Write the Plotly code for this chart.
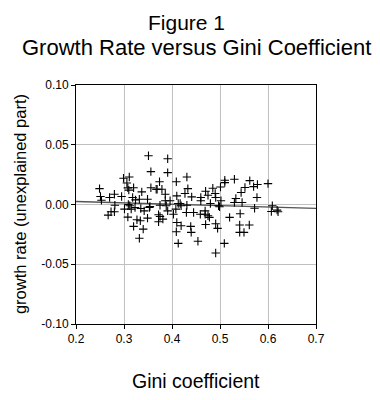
import plotly.graph_objects as go

gini = [0.351, 0.391, 0.356, 0.391, 0.299, 0.311, 0.431, 0.374, 0.409, 0.249,
        0.306, 0.308, 0.310, 0.320, 0.356, 0.367, 0.369, 0.379, 0.433, 0.337,
        0.386, 0.410, 0.427, 0.441, 0.251, 0.253, 0.270, 0.280, 0.295, 0.318,
        0.324, 0.332, 0.349, 0.386, 0.396, 0.413, 0.417, 0.281, 0.309, 0.312,
        0.301, 0.315, 0.323, 0.335, 0.342, 0.353, 0.354, 0.375, 0.388, 0.391,
        0.403, 0.408, 0.419, 0.431, 0.430, 0.267, 0.273, 0.280, 0.308, 0.327,
        0.334, 0.349, 0.372, 0.375, 0.372, 0.381, 0.320, 0.340, 0.332, 0.410,
        0.419, 0.409, 0.439, 0.440, 0.413,
        0.510, 0.510, 0.530, 0.562, 0.600, 0.578, 0.570, 0.552, 0.501, 0.485,
        0.470, 0.490, 0.475, 0.491, 0.544, 0.577, 0.460, 0.460, 0.502, 0.533,
        0.530, 0.546, 0.480, 0.497, 0.499, 0.445, 0.459, 0.469, 0.469, 0.475,
        0.478, 0.520, 0.542, 0.572, 0.609, 0.607, 0.619, 0.621, 0.470, 0.491,
        0.495, 0.541, 0.561, 0.541, 0.550, 0.454, 0.509, 0.491]
growth = [0.0408, 0.0383, 0.0275, 0.0267, 0.0220, 0.0230, 0.0230, 0.0190, 0.0190, 0.0133,
          0.0180, 0.0139, 0.0120, 0.0140, 0.0140, 0.0128, 0.0128, 0.0128, 0.0133, 0.0106,
          0.0086, 0.0072, 0.0092, 0.0064, 0.0067, 0.0036, 0.0058, 0.0086, 0.0067, 0.0058,
          0.0039, 0.0044, 0.0044, 0.0031, 0.0031, 0.0008, 0.0008, -0.0006, 0.0000, -0.0011,
          -0.0039, -0.0039, -0.0025, -0.0033, -0.0053, -0.0025, -0.0017, -0.0006, -0.0011, -0.0053,
          -0.0081, -0.0039, -0.0011, -0.0006, -0.0067, -0.0089, -0.0061, -0.0061, -0.0106, -0.0128,
          -0.0136, -0.0114, -0.0086, -0.0100, -0.0144, -0.0122, -0.0183, -0.0206, -0.0283, -0.0150,
          -0.0178, -0.0228, -0.0183, -0.0233, -0.0325,
          0.0203, 0.0183, 0.0211, 0.0200, 0.0175, 0.0167, 0.0150, 0.0142, 0.0147, 0.0136,
          0.0111, 0.0092, 0.0078, 0.0058, 0.0100, 0.0058, 0.0058, 0.0031, 0.0031, 0.0050,
          0.0017, 0.0017, 0.0008, -0.0011, -0.0019, -0.0067, -0.0081, -0.0053, -0.0081, -0.0094,
          -0.0108, -0.0108, -0.0078, -0.0031, -0.0011, -0.0058, -0.0047, -0.0061, -0.0167, -0.0161,
          -0.0200, -0.0172, -0.0172, -0.0233, -0.0233, -0.0308, -0.0325, -0.0406]

fit_x = [0.2, 0.7]
fit_y = [0.0025, -0.0033]

x_ticks = [0.2, 0.3, 0.4, 0.5, 0.6, 0.7]
x_tick_labels = ["0.2", "0.3", "0.4", "0.5", "0.6", "0.7"]
y_ticks = [-0.10, -0.05, 0.00, 0.05, 0.10]
y_tick_labels = ["-0.10", "-0.05", "0.00", "0.05", "0.10"]

FONT = "Liberation Sans, Arial, sans-serif"

fig = go.Figure()
fig.add_trace(go.Scatter(x=fit_x, y=fit_y, mode="lines",
                         line=dict(color="#555555", width=1.3), showlegend=False,
                         hoverinfo="skip"))
fig.add_trace(go.Scatter(x=gini, y=growth, mode="markers",
                         marker=dict(symbol="cross-thin", size=6,
                                     line=dict(color="black", width=1.1)),
                         showlegend=False))

axis_common = dict(showline=True, linecolor="black", linewidth=1, mirror=True,
                   showgrid=True, gridcolor="#c0c0c0", gridwidth=1,
                   ticks="outside", ticklen=4, tickcolor="black",
                   tickfont=dict(family=FONT, size=12, color="black"),
                   zeroline=False)

fig.update_xaxes(range=[0.2, 0.7], tickvals=x_ticks, ticktext=x_tick_labels,
                 **axis_common)
fig.update_yaxes(range=[-0.10, 0.10], tickvals=y_ticks, ticktext=y_tick_labels,
                 **axis_common)

fig.update_layout(
    width=380, height=400,
    margin=dict(l=68, r=72, t=77, b=84),
    paper_bgcolor="white", plot_bgcolor="white",
    font=dict(family=FONT, color="black"),
    annotations=[
        dict(text="Figure 1", xref="paper", yref="paper", x=0.46, y=1.262,
             xanchor="center", yanchor="middle", showarrow=False,
             font=dict(size=21, family=FONT)),
        dict(text="Growth Rate versus Gini Coefficient", xref="paper", yref="paper",
             x=0.5, y=1.155, xanchor="center", yanchor="middle", showarrow=False,
             font=dict(size=22, family=FONT)),
        dict(text="growth rate (unexplained part)", xref="paper", yref="paper",
             x=-0.235, y=0.5, xanchor="center", yanchor="middle", showarrow=False,
             textangle=-90, font=dict(size=16.5, family=FONT)),
        dict(text="Gini coefficient", xref="paper", yref="paper",
             x=0.5, y=-0.238, xanchor="center", yanchor="middle", showarrow=False,
             font=dict(size=19.5, family=FONT)),
    ],
)

fig.write_html("out.html")
